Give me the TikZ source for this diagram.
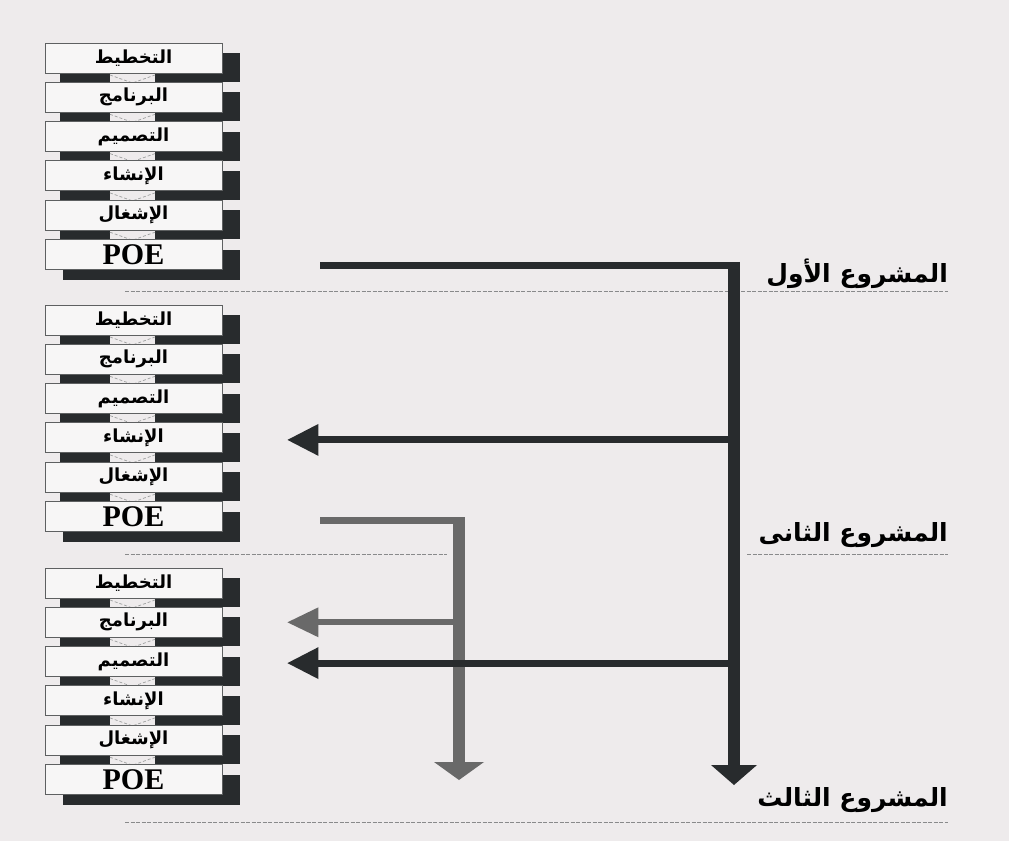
\documentclass[tikz,border=0pt]{standalone}
\usepackage{fontspec}
\usepackage{tikz}
\usetikzlibrary{arrows.meta,calc}
\TeXXeTstate=1
\newfontfamily\arabicfont[Script=Arabic]{DejaVu Sans}
\newfontfamily\poefont{Liberation Serif}
\definecolor{paper}{RGB}{238,235,236}
\definecolor{ink}{RGB}{40,43,45}
\definecolor{greyink}{RGB}{105,105,105}
\definecolor{boxfill}{RGB}{247,246,246}
\tikzset{
	phase/.style={draw=ink!75, line width=0.9pt, fill=boxfill, minimum width=177pt, minimum height=30pt, inner sep=0pt, font=\arabicfont\bfseries\fontsize{18}{19}\selectfont},
	poebox/.style={phase, font=\poefont\bfseries\fontsize{30}{30}\selectfont},
	project/.style={anchor=east, inner sep=0pt, font=\arabicfont\bfseries\fontsize{25}{27}\selectfont},
	sepline/.style={ink!55, line width=0.8pt, dash pattern=on 4pt off 1.5pt},
	chev/.style={ink!45, line width=0.7pt, dash pattern=on 3pt off 2pt},
	darkline/.style={ink},
	greyline/.style={greyink},
}
\begin{document}
\begin{tikzpicture}[x=1pt,y=-1pt]
		
		\fill[paper] (0,0) rectangle (1009,841);
		\useasboundingbox (0,0) rectangle (1009,841);
		
		\draw[sepline] (125,291) -- (948,291);
		\draw[sepline] (125,554) -- (447,554);
		\draw[sepline] (747,554) -- (948,554);
		\draw[sepline] (125,822) -- (948,822);
		
		\foreach \s/\top in {1/43,2/305,3/568}
		{
			\foreach \lab [count=\i from 0] in {التخطيط,البرنامج,التصميم,الإنشاء,الإشغال}
			{
				\fill[ink] (222,{\top+39.3*\i+10}) rectangle (240,{\top+39.3*\i+39});
				\fill[ink] (60,{\top+39.3*\i+30}) rectangle (110,{\top+39.3*\i+39});
				\fill[ink] (155,{\top+39.3*\i+30}) rectangle (240,{\top+39.3*\i+39});
				\draw[chev] (110,{\top+39.3*\i+32}) -- (132.5,{\top+39.3*\i+40}) -- (155,{\top+39.3*\i+32});
				\node[phase] (b\s-\i) at (133.5,{\top+39.3*\i+15}) {\beginR\lab\endR};
			}
			\fill[ink] (222,{\top+39.3*5+10}) rectangle (240,{\top+39.3*5+40});
			\fill[ink] (63,{\top+39.3*5+30}) rectangle (240,{\top+39.3*5+40});
			\node[poebox] (poe\s) at (133.5,{\top+39.3*5+15}) {POE};
		}
		
		\coordinate (start2) at ($(poe2.east)+(98,4)$);
		\coordinate (turn2) at (459,0 |- start2);
		\coordinate (end2) at (459,780);
		\coordinate (hit3a) at ($(b3-1.east)+(65,0)$);
		\draw[greyline, line width=7pt] (start2) -- ([xshift=6pt]turn2);
		\draw[greyline, line width=12pt, -{Triangle[width=50pt,length=18pt,line width=0pt]}] ([yshift=3.5pt]turn2) -- (end2);
		\draw[greyline, line width=6pt, -{Triangle[width=30pt,length=31pt,line width=0pt]}] (turn2 |- hit3a) -- (hit3a);
		
		\coordinate (start1) at ($(poe1.east)+(98,11)$);
		\coordinate (turn1) at (734,0 |- start1);
		\coordinate (end1) at (734,785);
		\coordinate (hit2) at ($(b2-3.east)+(65,2)$);
		\coordinate (hit3b) at ($(b3-2.east)+(65,1.5)$);
		\draw[darkline, line width=7.5pt] (start1) -- ([xshift=6pt]turn1);
		\draw[darkline, line width=12pt, -{Triangle[width=46pt,length=20pt,line width=0pt]}] ([yshift=3.75pt]turn1) -- (end1);
		\draw[darkline, line width=7pt, -{Triangle[width=32pt,length=31pt,line width=0pt]}] (turn1 |- hit2) -- (hit2);
		\draw[darkline, line width=7pt, -{Triangle[width=32pt,length=31pt,line width=0pt]}] (turn1 |- hit3b) -- (hit3b);
		
		\node[project] (proj1) at (948,274) {\beginR المشروع الأول\endR};
		\node[project] (proj2) at (948,535) {\beginR المشروع الثانى\endR};
		\node[project] (proj3) at (948,800) {\beginR المشروع الثالث\endR};
		
\end{tikzpicture}
\end{document}
